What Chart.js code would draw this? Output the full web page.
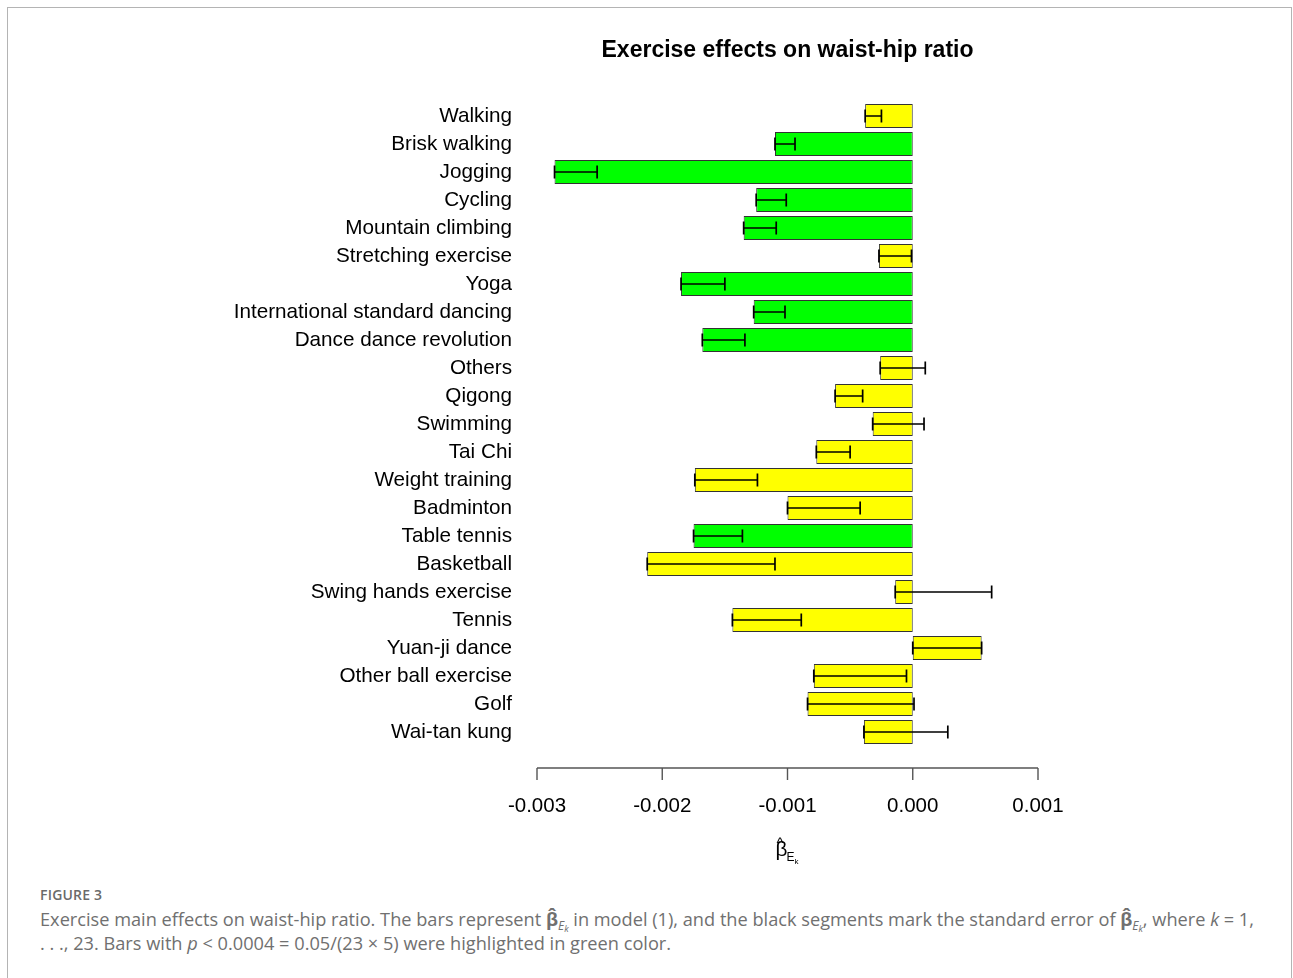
<!DOCTYPE html>
<html>
<head>
<meta charset="utf-8">
<script src="https://cdn.jsdelivr.net/npm/chart.js@4.4.0/dist/chart.umd.min.js"></script>
<style>
  html, body { margin: 0; padding: 0; background: #fff; }
  body { width: 1293px; height: 978px; overflow: hidden; position: relative; }
  #frame { position: absolute; left: 7px; top: 7px; width: 1285px; height: 1000px;
           border: 1px solid #b4b4b4; box-sizing: border-box; }
  #wrap { position: absolute; left: 0; top: 0; width: 1293px; height: 880px; }
  .fig-label { position: absolute; left: 40px; top: 885px; font-family: "Open Sans", sans-serif;
               font-size: 14px; font-weight: 600; color: #6a6a6a; letter-spacing: 0.2px; }
  .caption { position: absolute; left: 40px; top: 907px; font-family: "Open Sans", sans-serif;
             font-size: 18.2px; color: #707070; line-height: 24px; white-space: nowrap; }
  .caption sub { font-size: 12px; vertical-align: -4px; line-height: 0; }
  .caption sub sub { font-size: 9px; vertical-align: -2px; }
</style>
</head>
<body>
<div id="frame"></div>
<div id="wrap"><canvas id="chart" width="1293" height="880"></canvas></div>
<div class="fig-label">FIGURE 3</div>
<div class="caption">Exercise main effects on waist-hip ratio. The bars represent <b>β̂</b><sub><i>E<sub>k</sub></i></sub> in model (1), and the black segments mark the standard error of <b>β̂</b><sub><i>E<sub>k</sub></i></sub>, where <i>k</i> = 1,<br>. . ., 23. Bars with <i>p</i> &lt; 0.0004 = 0.05/(23 × 5) were highlighted in green color.</div>

<script>
// Exercise types, top to bottom
const exercises = [
  "Walking", "Brisk walking", "Jogging", "Cycling", "Mountain climbing",
  "Stretching exercise", "Yoga", "International standard dancing",
  "Dance dance revolution", "Others", "Qigong", "Swimming", "Tai Chi",
  "Weight training", "Badminton", "Table tennis", "Basketball",
  "Swing hands exercise", "Tennis", "Yuan-ji dance", "Other ball exercise",
  "Golf", "Wai-tan kung"
];

// Estimated main effect of each exercise on waist-hip ratio
const estimates = [
  -0.00038, -0.00110, -0.00286, -0.00125, -0.00135,
  -0.00027, -0.00185, -0.00127, -0.00168, -0.00026,
  -0.00062, -0.00032, -0.00077, -0.00174, -0.00100,
  -0.00175, -0.00212, -0.00014, -0.00144, 0.00055,
  -0.00079, -0.00084, -0.00039
];

// Standard error of each estimate
const standardErrors = [
  0.00013, 0.00016, 0.00034, 0.00024, 0.00026,
  0.00026, 0.00035, 0.00025, 0.00034, 0.00036,
  0.00022, 0.00041, 0.00027, 0.00050, 0.00058,
  0.00039, 0.00102, 0.00077, 0.00055, 0.00055,
  0.00074, 0.00085, 0.00067
];

// p < 0.0004 (Bonferroni) flags
const significant = [
  false, true, true, true, true,
  false, true, true, true, false,
  false, false, false, false, false,
  true, false, false, false, false,
  false, false, false
];

// x-axis ticks
const xTicks = [-0.003, -0.002, -0.001, 0.000, 0.001];

const GREEN = "#00ff00";
const YELLOW = "#ffff00";
const LABEL_FONT = "Liberation Sans";

// Standard-error segments: from the estimate back toward zero
const errorSegments = {
  id: "errorSegments",
  afterDatasetsDraw(chart) {
    const ctx = chart.ctx;
    const xs = chart.scales.x;
    const meta = chart.getDatasetMeta(0);
    ctx.save();
    ctx.strokeStyle = "#000";
    ctx.lineWidth = 1.7;
    meta.data.forEach((bar, i) => {
      const v = estimates[i];
      const s = standardErrors[i];
      const end = v < 0 ? v + s : v - s;
      const x1 = xs.getPixelForValue(v);
      const x2 = xs.getPixelForValue(end);
      const y = bar.y;
      ctx.beginPath();
      ctx.moveTo(x1, y); ctx.lineTo(x2, y);
      ctx.moveTo(x1, y - 6.5); ctx.lineTo(x1, y + 6.5);
      ctx.moveTo(x2, y - 6.5); ctx.lineTo(x2, y + 6.5);
      ctx.stroke();
    });
    ctx.restore();
  }
};

// Detached bottom axis line, title and axis label
const decorations = {
  id: "decorations",
  afterDraw(chart) {
    const ctx = chart.ctx;
    const xs = chart.scales.x;
    const area = chart.chartArea;
    const axisY = area.bottom + 22;
    ctx.save();
    ctx.strokeStyle = "#555";
    ctx.lineWidth = 1.4;
    ctx.beginPath();
    ctx.moveTo(xs.getPixelForValue(xTicks[0]), axisY);
    ctx.lineTo(xs.getPixelForValue(xTicks[xTicks.length - 1]), axisY);
    xTicks.forEach(t => {
      const px = xs.getPixelForValue(t);
      ctx.moveTo(px, axisY);
      ctx.lineTo(px, axisY + 12);
    });
    ctx.stroke();

    const cx = (area.left + area.right) / 2;
    ctx.fillStyle = "#000";
    ctx.textAlign = "center";
    ctx.textBaseline = "alphabetic";
    ctx.font = "bold 23px '" + LABEL_FONT + "'";
    ctx.fillText("Exercise effects on waist-hip ratio", cx, 57);

    // axis label: beta-hat with subscript E_k
    ctx.font = "20.7px '" + LABEL_FONT + "'";
    ctx.textAlign = "left";
    const bx = cx - 12;
    ctx.fillText("β", bx, 856);
    ctx.font = "15px '" + LABEL_FONT + "'";
    ctx.fillText("^", bx + 1, 848);
    ctx.font = "12px '" + LABEL_FONT + "'";
    ctx.fillText("E", bx + 11, 861);
    ctx.font = "8px '" + LABEL_FONT + "'";
    ctx.fillText("k", bx + 19, 864);
    ctx.restore();
  }
};

new Chart(document.getElementById("chart"), {
  type: "bar",
  data: {
    labels: exercises,
    datasets: [{
      data: estimates,
      backgroundColor: significant.map(s => s ? GREEN : YELLOW),
      borderColor: "#333",
      borderWidth: 1,
      borderSkipped: false,
      categoryPercentage: 1.0,
      barPercentage: 0.86
    }]
  },
  options: {
    indexAxis: "y",
    responsive: false,
    devicePixelRatio: 1,
    animation: false,
    layout: { padding: { left: 0, right: 255, top: 102, bottom: 0 } },
    plugins: {
      legend: { display: false },
      tooltip: { enabled: false },
      title: { display: false }
    },
    scales: {
      y: {
        type: "category",
        position: "left",
        grid: { display: false, drawTicks: false },
        border: { display: false },
        ticks: {
          color: "#000",
          padding: 25,
          font: { family: LABEL_FONT, size: 20.7 }
        },
        afterFit(scale) { scale.width = 537; }
      },
      x: {
        type: "linear",
        min: xTicks[0],
        max: xTicks[xTicks.length - 1],
        grid: { display: false, drawTicks: false },
        border: { display: false },
        afterBuildTicks(scale) { scale.ticks = xTicks.map(v => ({ value: v })); },
        ticks: {
          color: "#000",
          padding: 48,
          font: { family: LABEL_FONT, size: 20.5 },
          maxRotation: 0,
          callback: v => (Math.abs(v) < 1e-12 ? 0 : v).toFixed(3)
        },
        afterFit(scale) { scale.height = 134; }
      }
    }
  },
  plugins: [errorSegments, decorations]
});
</script>
</body>
</html>
